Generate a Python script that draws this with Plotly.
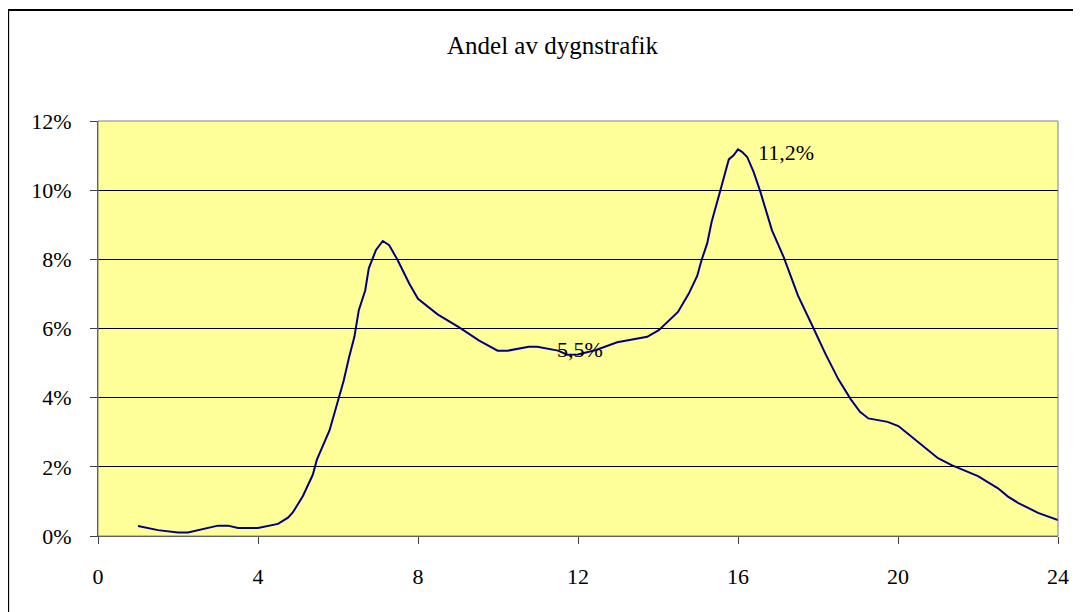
import plotly.graph_objects as go

title_text = "Andel av dygnstrafik"
hours = [1.0, 1.5, 2.0, 2.25, 3.0, 3.25, 3.5, 4.0, 4.5, 4.75, 4.87, 5.12, 5.37, 5.47, 5.79,
         6.14, 6.28, 6.41, 6.52, 6.68, 6.77, 6.95, 7.12, 7.28, 7.49, 7.78, 8.0, 8.49, 9.03,
         9.53, 9.99, 10.25, 10.77, 10.98, 11.5, 11.73, 12.0, 12.45, 12.98, 13.73, 14.02, 14.5,
         14.77, 14.98, 15.09, 15.23, 15.34, 15.45, 15.56, 15.77, 15.89, 16.0, 16.1, 16.23,
         16.39, 16.56, 16.85, 17.14, 17.5, 17.87, 18.18, 18.51, 18.82, 19.05, 19.26, 19.74,
         20.01, 20.34, 21.0, 21.34, 22.0, 22.5, 22.75, 23.0, 23.5, 24.0]
share_pct = [0.29, 0.17, 0.1, 0.1, 0.3, 0.3, 0.23, 0.23, 0.35, 0.53, 0.68, 1.15, 1.77, 2.2, 3.06,
             4.48, 5.18, 5.76, 6.53, 7.1, 7.74, 8.27, 8.53, 8.41, 7.98, 7.3, 6.86, 6.41, 6.03,
             5.65, 5.36, 5.36, 5.47, 5.47, 5.36, 5.24, 5.25, 5.38, 5.6, 5.76, 5.95, 6.48,
             7.01, 7.52, 7.98, 8.46, 9.08, 9.57, 10.0, 10.89, 11.01, 11.18, 11.11, 10.96,
             10.53, 9.95, 8.84, 8.07, 6.95, 6.05, 5.28, 4.53, 3.95, 3.59, 3.4, 3.3,
             3.18, 2.87, 2.25, 2.05, 1.73, 1.38, 1.14, 0.96, 0.67, 0.46]
x_ticks = [0, 4, 8, 12, 16, 20, 24]
y_ticks = [0, 2, 4, 6, 8, 10, 12]
y_ticktext = ["0%", "2%", "4%", "6%", "8%", "10%", "12%"]
label_texts = ["11,2%", "5,5%"]
label_x = [17.2, 12.05]
label_y = [11.1, 5.38]

FONT = "Liberation Serif, Times New Roman, serif"

fig = go.Figure()
fig.add_trace(go.Scatter(x=hours, y=share_pct, mode="lines",
                         line=dict(color="#000080", width=2), hoverinfo="skip",
                         showlegend=False))

for t, lx, ly in zip(label_texts, label_x, label_y):
    fig.add_annotation(x=lx, y=ly, xref="x", yref="y", text=t, showarrow=False,
                       font=dict(family=FONT, size=22, color="black"))

fig.add_annotation(x=0.4735, y=1.183, xref="paper", yref="paper", text=title_text,
                   showarrow=False, xanchor="center", yanchor="middle",
                   font=dict(family=FONT, size=25, color="black"))

# plot area border (top/right gray)
fig.add_shape(type="rect", xref="paper", yref="paper", x0=0, x1=1, y0=0, y1=1,
              line=dict(color="#808080", width=1), layer="above")
# chart area border
fig.add_shape(type="rect", xref="paper", yref="paper", x0=-0.0936, x1=1.03,
              y0=-0.21, y1=1.2675, line=dict(color="black", width=2), layer="above")

fig.update_layout(
    width=1073, height=604,
    margin=dict(l=90, r=21, t=113, b=76),
    paper_bgcolor="white", plot_bgcolor="#FFFF99",
    font=dict(family=FONT, size=22, color="black"),
    xaxis=dict(range=[0, 24], tickvals=x_ticks, ticks="outside", ticklen=7,
               tickcolor="#404040", showgrid=False, zeroline=False, showline=True,
               linecolor="#404040", linewidth=1, ticklabelstandoff=14,
               tickfont=dict(family=FONT, size=22, color="black")),
    yaxis=dict(range=[0, 12], tickvals=y_ticks, ticktext=y_ticktext, ticks="outside",
               ticklen=7, tickcolor="#404040", showgrid=True, gridcolor="black",
               gridwidth=1, zeroline=False, showline=True, linecolor="#404040",
               linewidth=1, ticklabelstandoff=14,
               tickfont=dict(family=FONT, size=22, color="black")),
)

fig.write_html("out.html")
